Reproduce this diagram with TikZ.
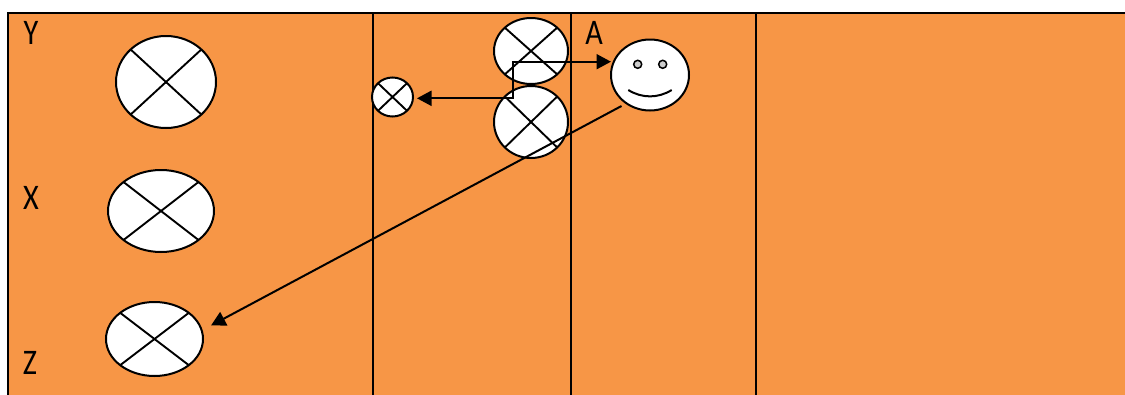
\documentclass[tikz,border=0pt]{standalone}
\usepackage{fontspec}
\setmainfont{Carlito}
\usetikzlibrary{shapes.geometric,arrows.meta,calc}
\definecolor{bgorange}{HTML}{F79646}
\tikzset{
  x=1pt,y=-1pt,
  ln/.style={line width=2pt,black},
  ball/.style={ellipse,draw,ln,fill=white,inner sep=0pt,outer sep=0pt},
  crossball/.style={ball,path picture={
    \draw[line width=1.9pt] (path picture bounding box.north west)--(path picture bounding box.south east);
    \draw[line width=1.9pt] (path picture bounding box.north east)--(path picture bounding box.south west);}},
  eye/.style={circle,draw,line width=1.5pt,fill=black!20,minimum size=8pt,inner sep=0pt},
  lab/.style={font=\fontsize{36}{36}\selectfont,inner sep=0pt,xscale=.84},
  tip/.style={-{Triangle[length=14.5pt,width=15pt]}},
}
\begin{document}
\begin{tikzpicture}
\clip (0,0) rectangle (1125,394);
\fill[white] (0,0) rectangle (1125,394);
\draw[ln,fill=bgorange] (8,13) rectangle (1135,404);
\draw[ln] (373,13) coordinate (a1) -- (373,404) coordinate (a2);
\draw[ln] (571,13) coordinate (b1) -- (571,404) coordinate (b2);
\draw[ln] (756,13) coordinate (c1) -- (756,404) coordinate (c2);

\node[lab] (ly) at (31,33) {Y};
\node[lab] (lx) at (31,198) {X};
\node[lab] (lz) at (30,363) {Z};
\node[lab] (la) at (594,33) {A};

\node[crossball,minimum width=100pt,minimum height=92pt] (y) at (166,82) {};
\node[crossball,minimum width=106pt,minimum height=82pt] (x) at (161,211) {};
\node[crossball,minimum width=97pt,minimum height=74pt] (z) at (154.5,339) {};
\node[crossball,minimum width=74pt,minimum height=66pt] (top) at (531,51) {};
\node[crossball,minimum width=74pt,minimum height=72pt] (bot) at (531,122) {};
\node[crossball,minimum width=41pt,minimum height=39pt] (small) at (392.5,97) {};
\node[ball,minimum width=78pt,minimum height=71pt] (face) at (650,75) {};
\node[eye] (el) at (637.7,64.3) {};
\node[eye] (er) at (662.7,64.3) {};
\draw[ln] (628.3,90) .. controls (642,98.5) and (658,98.5) .. (671.7,90);

\coordinate (p) at (513.3,98.3);
\coordinate (q) at (513.3,61.7);
\draw[ln,{Triangle[length=14.5pt,width=15pt]}-{Triangle[length=14.5pt,width=15pt]},shorten <=4pt]
  (p -| small.east) -- (p) -- (q) -- (q -| face.west);

\coordinate (fs) at (621.5,106);
\coordinate (zt) at (211,325.5);
\draw[ln,tip] (fs) -- (zt);
\end{tikzpicture}
\end{document}
